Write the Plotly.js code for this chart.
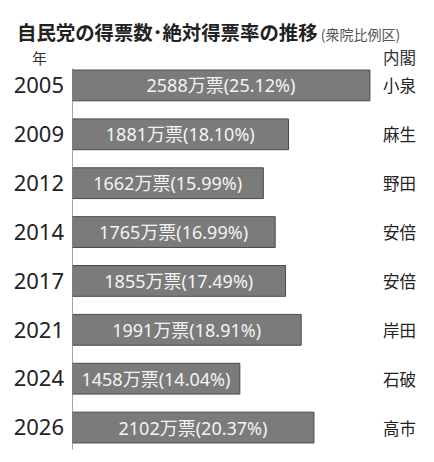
<!DOCTYPE html>
<html><head><meta charset="utf-8">
<script src="https://cdn.plot.ly/plotly-3.0.1.min.js"></script>
<style>html,body{margin:0;padding:0;background:#fff;}#chart{width:434px;height:462px;}</style>
</head><body><div id="chart"></div>
<script>
const years = ['2005','2009','2012','2014','2017','2021','2024','2026'];
const votes = [2588, 1881, 1662, 1765, 1855, 1991, 1458, 2102];
const rates = [25.12, 18.10, 15.99, 16.99, 17.49, 18.91, 14.04, 20.37];
const cabinets = ['小泉','麻生','野田','安倍','安倍','岸田','石破','高市'];

const FONT = '"Noto Sans", "Noto Sans CJK JP", sans-serif';
const CJK = '"Noto Sans CJK JP", "Noto Sans", sans-serif';
const labels = votes.map((v, i) => v + '万票(' + rates[i].toFixed(2) + '%)');

const trace = {
  type: 'bar', orientation: 'h',
  x: votes, y: years,
  text: labels, textposition: 'inside', insidetextanchor: 'middle',
  constraintext: 'none',
  textfont: {family: FONT, size: 18, color: '#f4f4f4'},
  marker: {color: '#7b7b7b', line: {color: '#4a4a4a', width: 1}},
  hoverinfo: 'none', cliponaxis: false
};

const annotations = cabinets.map((c, i) => ({
  x: 1.093, xref: 'paper', y: i, yref: 'y',
  text: c, showarrow: false, xanchor: 'center', yanchor: 'middle',
  font: {family: CJK, size: 16.5, color: '#222'}
}));
annotations.push({x: -0.107, xref: 'paper', y: 1.009, yref: 'paper', text: '年', showarrow: false,
  xanchor: 'center', yanchor: 'middle', font: {family: CJK, size: 15, color: '#333'}});
annotations.push({x: 1.093, xref: 'paper', y: 1.009, yref: 'paper', text: '内閣', showarrow: false,
  xanchor: 'center', yanchor: 'middle', font: {family: CJK, size: 16.5, color: '#333'}});

const layout = {
  width: 434, height: 462,
  margin: {l: 72, r: 62, t: 60.5, b: 9.5},
  paper_bgcolor: '#fff', plot_bgcolor: '#fff',
  showlegend: false,
  bargap: 0.37,
  title: {
    text: '<b>自民党の得票数･絶対得票率の推移</b><span style="font-size:14px;color:#555"> (衆院比例区)</span>',
    font: {family: CJK, size: 19.4, color: '#222'},
    x: 17/434, xref: 'container', xanchor: 'left',
    y: 1 - 33/462, yref: 'container', yanchor: 'middle'
  },
  xaxis: {range: [0, 2606], showgrid: false, zeroline: false, showline: false,
    showticklabels: false, ticks: '', fixedrange: true},
  yaxis: {type: 'category', range: [7.5, -0.5], showgrid: false, zeroline: false,
    showline: false, ticks: '', ticklabelstandoff: 7,
    tickfont: {family: FONT, size: 22, color: '#222'}, fixedrange: true},
  shapes: [{type: 'line', xref: 'x', yref: 'y', x0: 0, x1: 0, y0: -0.35, y1: 7.45,
    line: {color: '#888', width: 1.5}, layer: 'above'}],
  annotations: annotations
};

Plotly.newPlot('chart', [trace], layout, {displayModeBar: false, staticPlot: true});
</script></body></html>
